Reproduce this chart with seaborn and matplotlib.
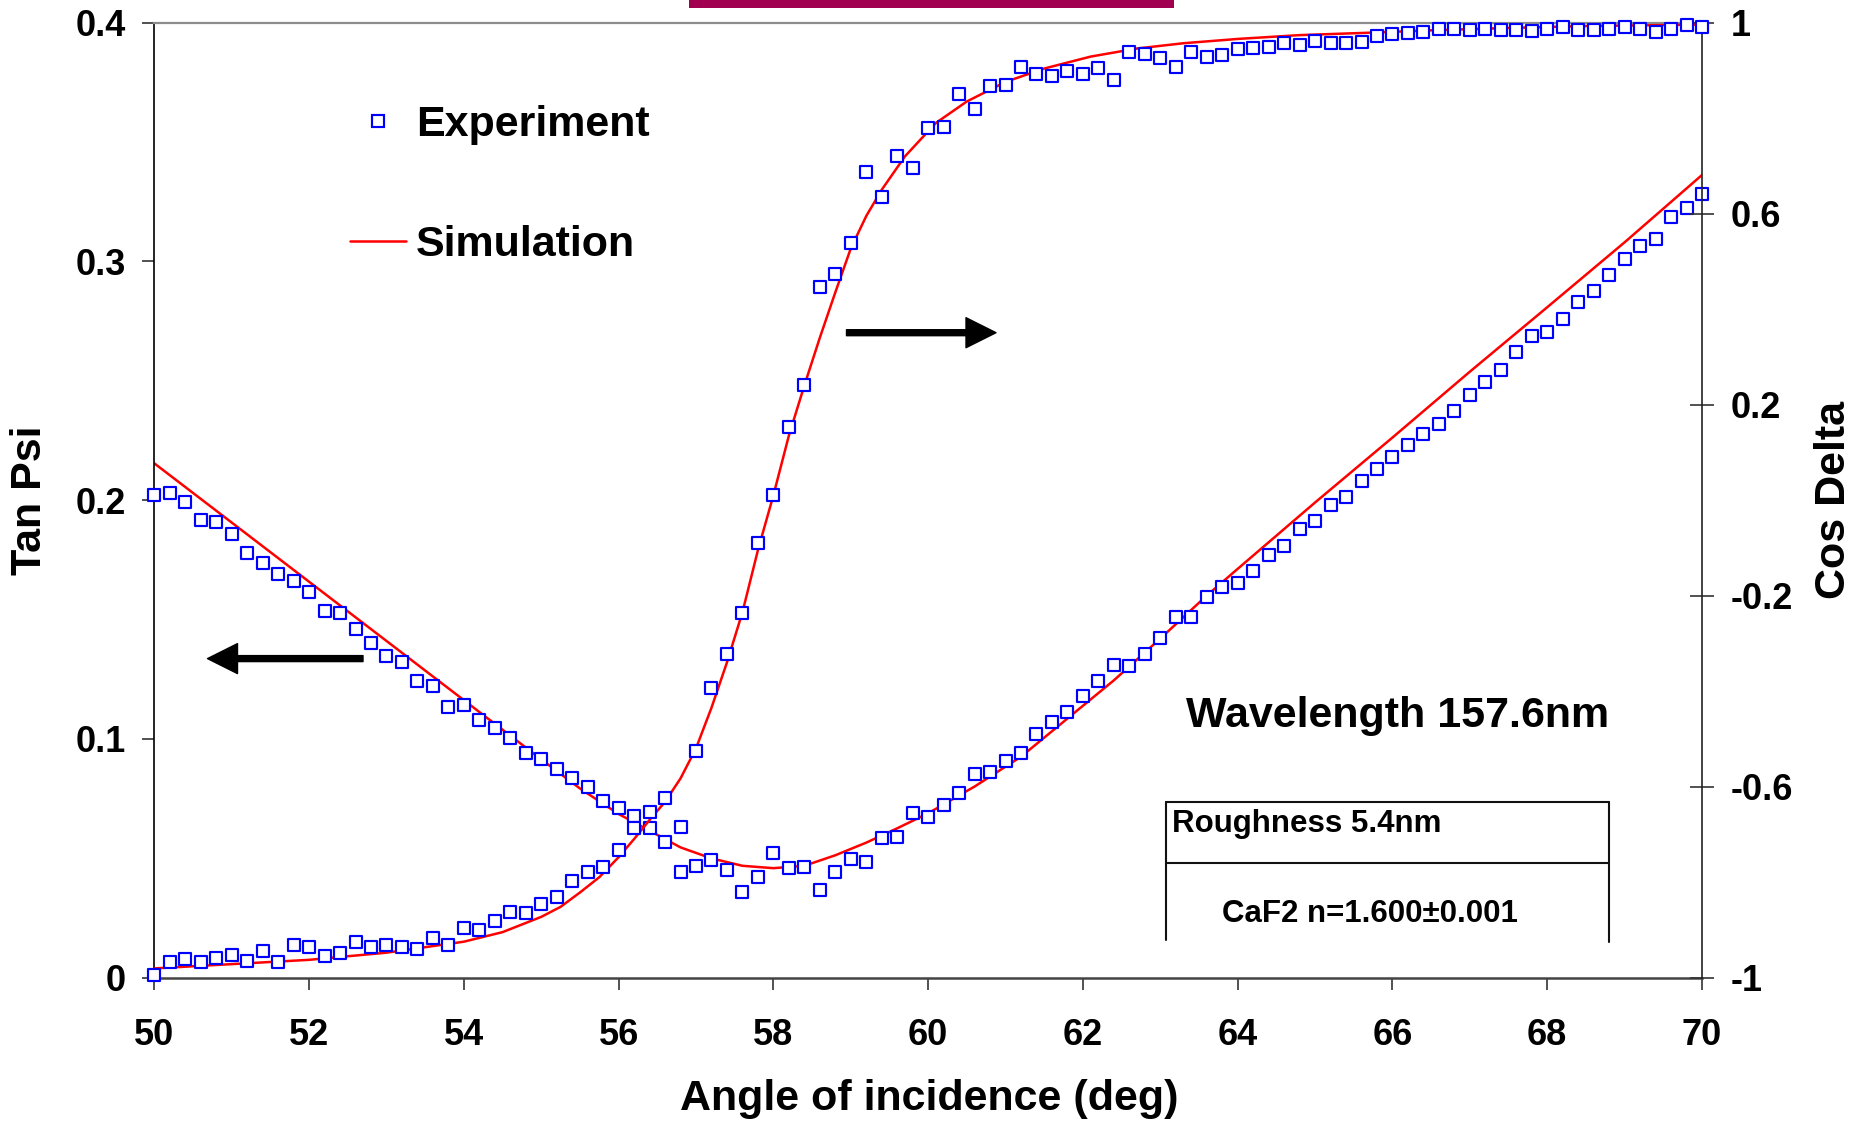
import numpy as np
import pandas as pd
import matplotlib
matplotlib.use("Agg")
import matplotlib.pyplot as plt
from matplotlib.lines import Line2D
from matplotlib.patches import Rectangle
import seaborn as sns

# ---------------- data ----------------
angle_exp = [round(50 + 0.2 * i, 1) for i in range(101)]

tanpsi_exp = [
    0.2021, 0.2031, 0.1991, 0.1915, 0.1907, 0.1858, 0.1778, 0.1738, 0.1692, 0.1661,
    0.1614, 0.1534, 0.1526, 0.1459, 0.1400, 0.1348, 0.1323, 0.1243, 0.1222, 0.1135,
    0.1143, 0.1079, 0.1044, 0.1005, 0.0942, 0.0914, 0.0872, 0.0834, 0.0799, 0.0740,
    0.0709, 0.0677, 0.0626, 0.0566, 0.0443, 0.0468, 0.0492, 0.0450, 0.0359, 0.0420,
    0.0520, 0.0459, 0.0462, 0.0367, 0.0443, 0.0496, 0.0483, 0.0586, 0.0590, 0.0688,
    0.0671, 0.0723, 0.0772, 0.0851, 0.0860, 0.0907, 0.0940, 0.1020, 0.1072, 0.1114,
    0.1181, 0.1242, 0.1309, 0.1306, 0.1354, 0.1422, 0.1509, 0.1509, 0.1595, 0.1635,
    0.1651, 0.1704, 0.1769, 0.1809, 0.1879, 0.1912, 0.1979, 0.2014, 0.2079, 0.2129,
    0.2182, 0.2231, 0.2278, 0.2318, 0.2372, 0.2439, 0.2494, 0.2546, 0.2620, 0.2689,
    0.2703, 0.2760, 0.2829, 0.2875, 0.2942, 0.3009, 0.3066, 0.3094, 0.3185, 0.3222,
    0.3281,
]

cosdelta_exp = [
    -0.9948, -0.9669, -0.9612, -0.9675, -0.9586, -0.9535, -0.9660, -0.9445, -0.9675, -0.9313,
    -0.9367, -0.9543, -0.9493, -0.9263, -0.9367, -0.9319, -0.9355, -0.9397, -0.9179, -0.9313,
    -0.8963, -0.8999, -0.8810, -0.8634, -0.8655, -0.8450, -0.8320, -0.7970, -0.7800, -0.7690,
    -0.7330, -0.6870, -0.6540, -0.6230, -0.6850, -0.5250, -0.3940, -0.3220, -0.2370, -0.0905,
    0.0107, 0.1538, 0.2410, 0.4470, 0.4730, 0.5380, 0.6866, 0.6350, 0.7214, 0.6963,
    0.7800, 0.7815, 0.8507, 0.8200, 0.8675, 0.8700, 0.9072, 0.8925, 0.8884, 0.8995,
    0.8925, 0.9058, 0.8800, 0.9393, 0.9344, 0.9253, 0.9078, 0.9380, 0.9290, 0.9320,
    0.9450, 0.9477, 0.9484, 0.9568, 0.9533, 0.9624, 0.9580, 0.9580, 0.9603, 0.9728,
    0.9763, 0.9777, 0.9810, 0.9867, 0.9867, 0.9847, 0.9875, 0.9840, 0.9840, 0.9826,
    0.9875, 0.9916, 0.9847, 0.9850, 0.9867, 0.9903, 0.9867, 0.9798, 0.9875, 0.9952,
    0.9916,
]

angle_sim_tan = [50, 51, 52, 53, 54, 55, 55.5, 56, 56.4, 56.8, 57.2, 57.6, 58.0, 58.4,
                 58.8, 59.2, 59.6, 60.0, 60.6, 61.2, 61.8, 62.4, 63.0, 63.6, 64.0,
                 65, 66, 67, 68, 69, 70]
tanpsi_sim = [0.2154, 0.1906, 0.1658, 0.1410, 0.1162, 0.0914, 0.0792, 0.0685, 0.0615,
              0.0545, 0.0499, 0.0468, 0.0458, 0.0468, 0.0512, 0.0565, 0.0625, 0.0688,
              0.0800, 0.0925, 0.1085, 0.1245, 0.1420, 0.1600, 0.1712, 0.1990, 0.2262,
              0.2538, 0.2808, 0.3080, 0.3362]

angle_sim_cos = [50, 51, 52, 53, 54, 54.5, 55, 55.25, 55.5, 55.75, 56.0, 56.2, 56.4,
                 56.6, 56.8, 57.0, 57.2, 57.4, 57.6, 57.8, 58.0, 58.2, 58.4, 58.6,
                 58.8, 59.0, 59.2, 59.4, 59.7, 60.1, 60.5, 61.0, 61.5, 62.1, 62.7,
                 63.3, 64.0, 64.8, 65.7, 66.5, 67.5, 68.5, 70.0]
cosdelta_sim = [-0.981, -0.972, -0.963, -0.948, -0.925, -0.905, -0.873, -0.852, -0.822,
                -0.790, -0.748, -0.710, -0.670, -0.632, -0.583, -0.520, -0.435, -0.340,
                -0.235, -0.105, 0.010, 0.135, 0.240, 0.340, 0.435, 0.527, 0.595, 0.650,
                0.720, 0.790, 0.835, 0.876, 0.904, 0.929, 0.946, 0.957, 0.966, 0.974,
                0.979, 0.984, 0.989, 0.993, 0.996]

x_ticks = [50, 52, 54, 56, 58, 60, 62, 64, 66, 68, 70]
x_ticklabels = ["50", "52", "54", "56", "58", "60", "62", "64", "66", "68", "70"]
left_ticks = [0, 0.1, 0.2, 0.3, 0.4]
left_ticklabels = ["0", "0.1", "0.2", "0.3", "0.4"]
right_ticks = [-1, -0.6, -0.2, 0.2, 0.6, 1]
right_ticklabels = ["-1", "-0.6", "-0.2", "0.2", "0.6", "1"]

exp_df = pd.DataFrame({"angle": angle_exp, "tanpsi": tanpsi_exp, "cosdelta": cosdelta_exp})
sim_tan_df = pd.DataFrame({"angle": angle_sim_tan, "tanpsi": tanpsi_sim})
sim_cos_df = pd.DataFrame({"angle": angle_sim_cos, "cosdelta": cosdelta_sim})

# ---------------- style ----------------
sns.set_theme(style="white")
plt.rcParams["font.family"] = ["Liberation Sans", "DejaVu Sans"]
plt.rcParams["font.weight"] = "bold"
plt.rcParams["axes.labelweight"] = "bold"
plt.rcParams["text.color"] = "black"

W, H = 1874, 1127
fig = plt.figure(figsize=(W / 100, H / 100), dpi=100)
fig.patch.set_facecolor("white")


def fx(px):
    return px / W


def fy(py):
    return 1 - py / H


L, R, T, B = 154.3, 1702.0, 22.7, 977.5
ax = fig.add_axes([fx(L), fy(B), (R - L) / W, (B - T) / H])
ax2 = ax.twinx()

BLUE = "#0000FF"
RED = "#FF0000"
ms = 8.4
mew = 1.55

sns.lineplot(data=sim_tan_df, x="angle", y="tanpsi", ax=ax, color=RED,
             linewidth=1.8, zorder=2)
sns.scatterplot(data=exp_df, x="angle", y="tanpsi", ax=ax, marker="s", s=ms ** 2,
                color=BLUE, facecolor="white", edgecolor=BLUE, linewidth=mew,
                clip_on=False, zorder=3)
sns.lineplot(data=sim_cos_df, x="angle", y="cosdelta", ax=ax2, color=RED,
             linewidth=1.8, zorder=2)
sns.scatterplot(data=exp_df, x="angle", y="cosdelta", ax=ax2, marker="s", s=ms ** 2,
                color=BLUE, facecolor="white", edgecolor=BLUE, linewidth=mew,
                clip_on=False, zorder=3)

ax.set_xlim(50, 70)
ax.set_ylim(0, 0.4)
ax2.set_ylim(-1, 1)

ax.set_xticks(x_ticks)
ax.set_xticklabels(x_ticklabels)
ax.set_yticks(left_ticks)
ax.set_yticklabels(left_ticklabels)
ax2.set_yticks(right_ticks)
ax2.set_yticklabels(right_ticklabels)

for lab in ax.get_xticklabels() + ax.get_yticklabels() + ax2.get_yticklabels():
    lab.set_fontweight("bold")
    lab.set_fontsize(26)
    lab.set_color("black")

ax.tick_params(axis="x", direction="out", length=8.4, width=1.2, pad=21,
               color="#333333", bottom=True, top=False)
ax.tick_params(axis="y", direction="out", length=8.4, width=1.2, pad=12,
               color="#333333", left=True, right=False)
ax2.tick_params(axis="y", direction="inout", length=17, width=1.2, pad=12,
                color="#333333", right=True, left=False)

ax.set_xlabel("")
ax.set_ylabel("")
ax2.set_ylabel("")

# spines
ax.spines["top"].set_color("#8c8c8c")
ax.spines["top"].set_linewidth(1.6)
ax.spines["bottom"].set_color("#444444")
ax.spines["bottom"].set_linewidth(1.8)
ax.spines["left"].set_color("black")
ax.spines["left"].set_linewidth(1.2)
ax.spines["right"].set_visible(False)
for s in ["top", "bottom", "left"]:
    ax2.spines[s].set_visible(False)
ax2.spines["right"].set_color("#222222")
ax2.spines["right"].set_linewidth(1.2)
ax.set_facecolor("white")
ax2.patch.set_visible(False)
ax.grid(False)
ax2.grid(False)

# axis labels
lab_kw = dict(fontsize=31, fontweight="bold", color="black")
fig.text(fx(929), fy(1099), "Angle of incidence (deg)", ha="center", va="center", **lab_kw)
fig.text(fx(30), fy(500), "Tan Psi", ha="center", va="center", rotation=90, **lab_kw)
fig.text(fx(1834), fy(500), "Cos Delta", ha="center", va="center", rotation=90, **lab_kw)

# legend
handles = [
    Line2D([], [], marker="s", ls="none", ms=ms, mfc="white", mec=BLUE, mew=mew),
    Line2D([], [], color=RED, lw=1.8),
]
leg = ax2.legend(handles, ["Experiment", "Simulation"], loc="upper left",
                 bbox_to_anchor=(fx(350), fy(105)), bbox_transform=fig.transFigure,
                 frameon=False, borderpad=0, borderaxespad=0, handlelength=1.3,
                 handletextpad=0.23, labelspacing=1.86,
                 prop={"size": 31, "weight": "bold"})
for t in leg.get_texts():
    t.set_color("black")

# arrows
arrow_kw = dict(facecolor="black", edgecolor="black", width=4.3,
                headwidth=21.6, headlength=21.6, shrink=0)
ax.annotate("", xy=(996, H - 332.7), xytext=(846.5, H - 332.7),
            xycoords="figure pixels", textcoords="figure pixels", arrowprops=arrow_kw)
ax.annotate("", xy=(207.5, H - 658.6), xytext=(363, H - 658.6),
            xycoords="figure pixels", textcoords="figure pixels", arrowprops=arrow_kw)

# annotation texts and box
fig.text(fx(1397.5), fy(716), "Wavelength 157.6nm", ha="center", va="center", **lab_kw)
fig.text(fx(1171.5), fy(824), "Roughness 5.4nm", ha="left", va="center",
         fontsize=22.5, fontweight="bold", color="black")
fig.text(fx(1369.5), fy(914), "CaF2 n=1.600\u00b10.001", ha="center", va="center",
         fontsize=22.5, fontweight="bold", color="black")

box_lines = [
    ([1165.7, 1609.3], [801.7, 801.7]),
    ([1165.7, 1609.3], [863.3, 863.3]),
    ([1165.7, 1165.7], [801.7, 940.0]),
    ([1609.3, 1609.3], [801.7, 942.0]),
]
for xs, ys in box_lines:
    fig.add_artist(Line2D([fx(v) for v in xs], [fy(v) for v in ys],
                          transform=fig.transFigure, color="#111111", lw=1.5))

# magenta bar at top edge
fig.add_artist(Rectangle((fx(689), fy(8.3)), (1174 - 689) / W, 8.3 / H + 0.001,
                         transform=fig.transFigure, color="#A0004F", lw=0))

fig.savefig("out.png", dpi=100, facecolor="white")
